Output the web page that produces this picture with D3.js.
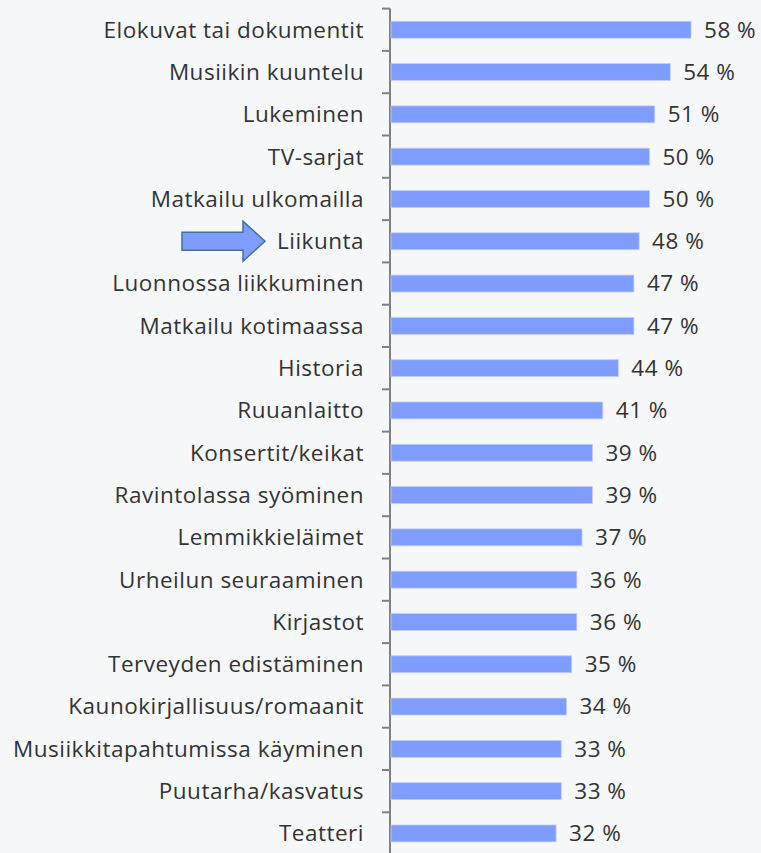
<!DOCTYPE html>
<html>
<head>
<meta charset="utf-8">
<script src="https://d3js.org/d3.v7.min.js"></script>
<style>
  body { margin: 0; background: #f6f7f9; }
  svg { display: block; }
  text { font-family: "Open Sans", "Noto Sans", sans-serif; fill: #333; letter-spacing: 0.5px; }
</style>
</head>
<body>
<div id="chart"></div>
<script>
var categories = [
  "Elokuvat tai dokumentit", "Musiikin kuuntelu", "Lukeminen", "TV-sarjat",
  "Matkailu ulkomailla", "Liikunta", "Luonnossa liikkuminen", "Matkailu kotimaassa",
  "Historia", "Ruuanlaitto", "Konsertit/keikat", "Ravintolassa syöminen",
  "Lemmikkieläimet", "Urheilun seuraaminen", "Kirjastot", "Terveyden edistäminen",
  "Kaunokirjallisuus/romaanit", "Musiikkitapahtumissa käyminen", "Puutarha/kasvatus", "Teatteri"
];
var values = [58, 54, 51, 50, 50, 48, 47, 47, 44, 41, 39, 39, 37, 36, 36, 35, 34, 33, 33, 32];
var highlighted = "Liikunta";

var width = 761, height = 853;
var svg = d3.select("#chart").append("svg")
    .attr("width", width)
    .attr("height", height);

var x = d3.scaleLinear().domain([0, 100]).range([390, 909]);
var y = d3.scaleBand().domain(categories).range([8.6, 854.6]).paddingInner(0.6).paddingOuter(0.3);

// axis line and ticks between the categories
var step = y.step();
svg.append("line")
    .attr("x1", 390).attr("x2", 390)
    .attr("y1", 8.6).attr("y2", height)
    .attr("stroke", "#808080").attr("stroke-width", 2);
svg.selectAll(".tick")
    .data(d3.range(categories.length + 1))
    .enter().append("line")
    .attr("class", "tick")
    .attr("x1", 382).attr("x2", 390)
    .attr("y1", function (i) { return 8.6 + i * step; })
    .attr("y2", function (i) { return 8.6 + i * step; })
    .attr("stroke", "#808080").attr("stroke-width", 2);

svg.selectAll(".bar")
    .data(categories)
    .enter().append("rect")
    .attr("class", "bar")
    .attr("x", x(0) + 1)
    .attr("y", function (d) { return y(d); })
    .attr("width", function (d, i) { return x(values[i]) - x(0) - 1; })
    .attr("height", y.bandwidth())
    .attr("fill", "#7f9cff")
    .attr("stroke", "#c2cdfb").attr("stroke-width", 0.8);

svg.selectAll(".cat")
    .data(categories)
    .enter().append("text")
    .attr("class", "cat")
    .attr("x", 364)
    .attr("y", function (d) { return y(d) + y.bandwidth() / 2; })
    .attr("dy", "0.35em")
    .attr("text-anchor", "end")
    .style("font-size", "22.5px")
    .text(function (d) { return d; });

svg.selectAll(".val")
    .data(categories)
    .enter().append("text")
    .attr("class", "val")
    .attr("x", function (d, i) { return x(values[i]) + 13; })
    .attr("y", function (d) { return y(d) + y.bandwidth() / 2; })
    .attr("dy", "0.35em")
    .style("font-size", "22.5px")
    .text(function (d, i) { return values[i] + " %"; });

// arrow pointing at the highlighted category
var cy = y(highlighted) + y.bandwidth() / 2;
var arrow = [[182, cy - 9], [243, cy - 9], [243, cy - 20], [265, cy], [243, cy + 20], [243, cy + 9], [182, cy + 9]];
svg.append("path")
    .attr("d", d3.line()(arrow) + "Z")
    .attr("fill", "#7f9cff")
    .attr("stroke", "#41719c")
    .attr("stroke-width", 1.5);
</script>
</body>
</html>
